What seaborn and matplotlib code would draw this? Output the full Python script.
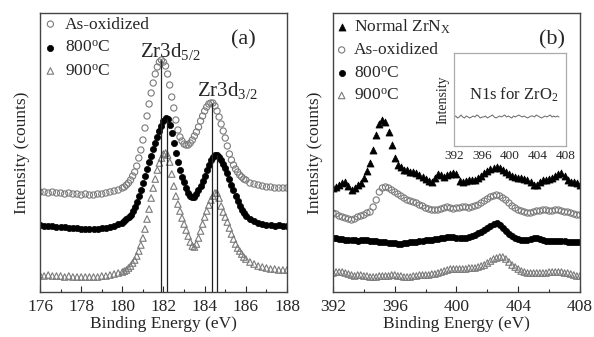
import numpy as np
import matplotlib
matplotlib.use("Agg")
import matplotlib.pyplot as plt
import seaborn as sns

# ---------------- data: panel (a) Zr3d ----------------
energy_a = np.round(np.concatenate([np.arange(176.0, 180.01, 0.2),
                                    np.arange(180.1, 186.01, 0.1),
                                    np.arange(186.2, 188.01, 0.2)]), 1)

asox_a = [100, 100, 99, 100, 99, 99, 98, 99, 98, 98, 97, 98, 97, 97, 98, 98, 99, 100, 101, 102, 104,
          105, 107, 109, 112, 116, 120, 126, 134, 142,
          152, 164, 176, 188, 199, 209, 218, 225, 230, 232,
          230, 226, 218, 207, 195, 184, 172, 162, 155, 151,
          148, 147, 147, 149, 152, 156, 160, 165, 171, 176,
          181, 185, 188, 189, 189, 186, 181, 175, 168, 161,
          154, 146, 138, 132, 127, 123, 120, 117, 115, 113,
          112,
          109, 108, 107, 106, 105, 105, 104, 104, 104, 104]

c800_a = [67, 66, 66, 66, 65, 65, 65, 64, 64, 64, 63, 63, 63, 63, 63, 64, 64, 65, 66, 68, 69,
          71, 73, 75, 77, 81, 85, 90, 96, 102,
          109, 116, 123, 130, 136, 143, 149, 155, 161, 166,
          171, 174, 173, 167, 159, 149, 139, 130, 122, 115,
          110, 104, 99, 96, 95, 95, 98, 102, 106, 111,
          116, 122, 127, 132, 135, 137, 137, 135, 132, 128,
          124, 119, 113, 107, 102, 96, 91, 86, 82, 79,
          76,
          73, 71, 69, 68, 67, 67, 66, 67, 66, 66]

c900_a = [17, 16, 17, 16, 16, 16, 15, 16, 15, 15, 15, 15, 15, 15, 15, 16, 16, 17, 18, 19, 20,
          21, 22, 24, 26, 29, 32, 36, 41, 47,
          54, 63, 73, 83, 94, 104, 113, 122, 129, 134,
          138, 139, 137, 130, 118, 106, 96, 88, 81, 74,
          68, 62, 56, 50, 46, 45, 48, 54, 61, 68,
          75, 81, 87, 92, 96, 99, 99, 94, 86, 80,
          75, 70, 64, 58, 53, 48, 44, 41, 38, 35,
          33,
          30, 28, 26, 25, 24, 23, 23, 22, 22, 22]

peak_pos_a = [181.9, 182.15, 184.35, 184.6]   # Zr3d5/2 and Zr3d3/2 positions
peak_src_a = ["asox", "800", "asox", "800"]

# ---------------- data: panel (b) N1s ----------------
energy_b = np.round(np.arange(392.0, 408.01, 0.2), 1)

normal_b = [104, 105, 107, 109, 110, 106, 102, 104, 107, 109,
            114, 121, 129, 142, 157, 168, 172, 170, 160, 147,
            134, 127, 125, 122, 122, 120, 120, 119, 117, 115,
            113, 111, 110, 114, 118, 117, 115, 117, 118, 119,
            118, 111, 110, 111, 112, 112, 112, 114, 116, 119,
            121, 123, 124, 125, 124, 122, 120, 118, 116, 115,
            114, 114, 113, 112, 110, 107, 107, 110, 112, 112,
            113, 114, 116, 118, 119, 116, 112, 110, 110, 109,
            107]

asox_b = [79, 78, 76, 75, 74, 73, 72, 73, 75, 76,
          77, 79, 80, 85, 92, 100, 104, 105, 104, 102,
          100, 98, 96, 94, 92, 91, 90, 89, 87, 86,
          84, 83, 82, 82, 82, 83, 84, 85, 84, 83,
          84, 84, 85, 85, 84, 85, 86, 87, 89, 91,
          93, 95, 96, 97, 96, 94, 92, 89, 86, 84,
          82, 81, 80, 79, 79, 80, 81, 81, 82, 82,
          81, 81, 82, 82, 81, 80, 80, 79, 78, 77,
          77]

c800_b = [54, 54, 53, 53, 52, 52, 52, 52, 51, 52,
          52, 52, 51, 51, 51, 50, 50, 50, 49, 49,
          49, 48, 48, 49, 49, 50, 50, 50, 51, 51,
          52, 52, 52, 53, 53, 54, 54, 55, 55, 55,
          54, 54, 54, 54, 55, 56, 57, 59, 60, 62,
          64, 66, 68, 69, 67, 64, 61, 58, 56, 54,
          53, 52, 52, 52, 53, 54, 54, 53, 52, 51,
          51, 51, 51, 51, 51, 51, 50, 50, 50, 50,
          50]

c900_b = [19, 20, 20, 20, 19, 18, 17, 16, 17, 17,
          16, 16, 15, 15, 15, 16, 16, 16, 16, 17,
          17, 16, 16, 15, 15, 15, 16, 16, 17, 17,
          17, 17, 18, 18, 19, 20, 21, 22, 23, 23,
          23, 23, 23, 23, 24, 24, 24, 25, 26, 27,
          29, 31, 33, 34, 35, 35, 33, 30, 27, 25,
          23, 21, 20, 19, 19, 19, 19, 19, 19, 19,
          20, 20, 20, 20, 20, 19, 19, 18, 17, 16,
          16]

# inset: N1s for ZrO2
energy_in = np.round(np.arange(392.0, 407.01, 0.25), 2)
n1s_zro2 = [29, 30, 28, 29, 31, 29, 28, 30, 29, 28,
            29, 30, 29, 31, 30, 28, 29, 29, 30, 28,
            29, 30, 31, 29, 28, 29, 30, 29, 30, 31,
            29, 30, 29, 28, 30, 29, 30, 31, 30, 29,
            30, 29, 28, 29, 30, 30, 29, 31, 30, 29,
            28, 29, 30, 29, 30, 31, 29, 30, 29, 30,
            29]

labels_a = ["As-oxidized", "800$^\\mathrm{o}$C", "900$^\\mathrm{o}$C"]
labels_b = ["Normal ZrN$_\\mathrm{X}$", "As-oxidized", "800$^\\mathrm{o}$C", "900$^\\mathrm{o}$C"]
xticks_a = [176, 178, 180, 182, 184, 186, 188]
xticks_b = [392, 396, 400, 404, 408]

# ---------------- style ----------------
sns.set_style("ticks")
plt.rcParams["font.family"] = ["Liberation Serif", "DejaVu Serif"]
plt.rcParams["mathtext.fontset"] = "custom"
plt.rcParams["mathtext.rm"] = "Liberation Serif"
plt.rcParams["mathtext.it"] = "Liberation Serif:italic"
plt.rcParams["mathtext.bf"] = "Liberation Serif:bold"

GRAY = "#7a7a7a"
FS = 12.5

fig = plt.figure(figsize=(5.94, 3.37), dpi=100)
ax_a = fig.add_axes([0.0673, 0.1335, 0.4159, 0.8279])
ax_b = fig.add_axes([0.5606, 0.1335, 0.4158, 0.8279])
ax_in = fig.add_axes([0.7643, 0.5668, 0.1886, 0.2759])

open_c = dict(marker="o", s=20, facecolors="none", edgecolors=GRAY, linewidths=0.8)
fill_c = dict(marker="o", s=20, color="black", edgecolors="black", linewidths=0.5)
open_t = dict(marker="^", s=22, facecolors="none", edgecolors=GRAY, linewidths=0.8)
fill_t = dict(marker="^", s=26, color="black", edgecolors="black", linewidths=0.5)

# panel (a)
sns.scatterplot(x=energy_a, y=asox_a, ax=ax_a, label=labels_a[0], **open_c)
sns.scatterplot(x=energy_a, y=c800_a, ax=ax_a, label=labels_a[1], **fill_c)
sns.scatterplot(x=energy_a, y=c900_a, ax=ax_a, label=labels_a[2], **open_t)

src = {"asox": np.array(asox_a), "800": np.array(c800_a)}
tops = [np.interp(p, energy_a, src[s]) for p, s in zip(peak_pos_a, peak_src_a)]
ax_a.vlines(peak_pos_a, 0, tops, colors="#222222", linewidth=0.9, zorder=5)

# panel (b)
sns.scatterplot(x=energy_b, y=normal_b, ax=ax_b, label=labels_b[0], **fill_t)
sns.scatterplot(x=energy_b, y=asox_b, ax=ax_b, label=labels_b[1], **open_c)
sns.scatterplot(x=energy_b, y=c800_b, ax=ax_b, label=labels_b[2], **fill_c)
sns.scatterplot(x=energy_b, y=c900_b, ax=ax_b, label=labels_b[3], **open_t)

# inset
sns.lineplot(x=energy_in, y=n1s_zro2, ax=ax_in, color="#666666", linewidth=0.7)

for ax, ticks, lim in [(ax_a, xticks_a, (176, 188)), (ax_b, xticks_b, (392, 408))]:
    ax.set_xlim(*lim)
    ax.set_ylim(0, 279)
    ax.set_xticks(ticks)
    ax.set_xticklabels([str(t) for t in ticks], fontsize=FS)
    ax.set_yticks([])
    ax.minorticks_on()
    ax.tick_params(axis="x", which="both", direction="in", top=False, pad=5)
    ax.tick_params(axis="x", which="major", length=4, width=0.8)
    ax.tick_params(axis="x", which="minor", length=2, width=0.8)
    ax.tick_params(axis="y", which="both", left=False, right=False)
    ax.set_xlabel("Binding Energy (eV)", fontsize=FS, labelpad=1)
    ax.set_ylabel("Intensity (counts)", fontsize=FS, labelpad=7)
    for sp in ax.spines.values():
        sp.set_visible(True)
        sp.set_color("#444444")
        sp.set_linewidth(1.0)

ax_a.xaxis.set_minor_locator(matplotlib.ticker.MultipleLocator(1))
ax_b.xaxis.set_minor_locator(matplotlib.ticker.MultipleLocator(2))

leg_a = ax_a.legend(loc="upper left", bbox_to_anchor=(0.0, 1.0), frameon=False, fontsize=FS,
                    handletextpad=0.45, labelspacing=0.42, borderpad=0.2, handlelength=0.8,
                    borderaxespad=0.0)
leg_b = ax_b.legend(loc="upper left", bbox_to_anchor=(0.0, 1.0), frameon=False, fontsize=FS,
                    handletextpad=0.45, labelspacing=0.38, borderpad=0.25, handlelength=0.5,
                    borderaxespad=0.0)

ax_a.text(180.86, 235, "Zr3d$_{5/2}$", fontsize=15, ha="left", va="baseline")
ax_a.text(183.63, 196, "Zr3d$_{3/2}$", fontsize=15, ha="left", va="baseline")
ax_a.text(185.86, 252, "(a)", fontsize=16, ha="center", va="center")
ax_b.text(406.18, 252, "(b)", fontsize=16, ha="center", va="center")

# inset formatting
ax_in.set_xlim(392, 408)
ax_in.set_ylim(0, 93)
ax_in.set_xticks(xticks_b)
ax_in.set_xticklabels([str(t) for t in xticks_b], fontsize=9.5)
ax_in.set_yticks([])
ax_in.tick_params(axis="x", length=0, pad=3)
ax_in.set_xlabel("")
ax_in.set_ylabel("Intensity", fontsize=10, labelpad=3)
for sp in ax_in.spines.values():
    sp.set_visible(True)
    sp.set_color("#aaaaaa")
    sp.set_linewidth(0.9)
ax_in.text(0.53, 0.55, "N1s for ZrO$_2$", transform=ax_in.transAxes, fontsize=12,
           ha="center", va="center")

fig.savefig("out.png", dpi=100)
